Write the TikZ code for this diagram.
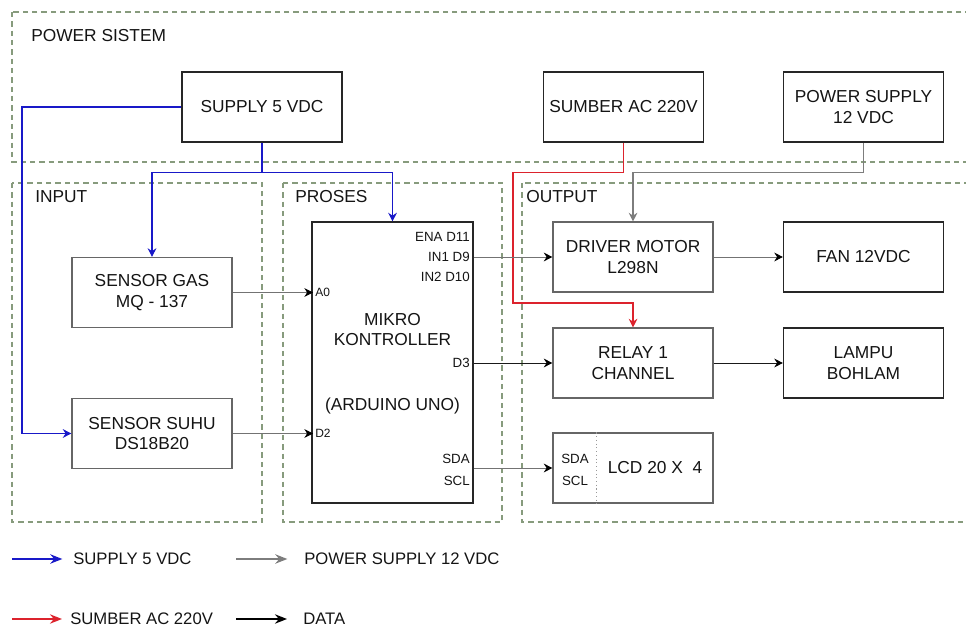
\documentclass[tikz,border=0pt]{standalone}
\usepackage{fontspec}
\setmainfont{Liberation Sans}
\usetikzlibrary{arrows.meta,positioning}
\definecolor{grpline}{RGB}{135,155,125}
\definecolor{pwrblue}{RGB}{25,25,200}
\definecolor{acred}{RGB}{220,35,45}
\definecolor{dcgray}{RGB}{125,125,125}
\definecolor{txt}{RGB}{20,20,20}
\begin{document}
\begin{tikzpicture}[x=0.75pt, y=-0.75pt,
    box/.style={draw=black!85, line width=0.8pt, minimum width=120pt, minimum height=52.5pt,
        align=center, inner sep=1pt, text=txt, font=\fontsize{13}{15.5}\selectfont},
    lightbox/.style={box, draw=black!60},
    boxtxt/.style={align=center, inner sep=0pt, text=txt, font=\fontsize{13}{15.5}\selectfont},
    group/.style={draw=grpline, line width=0.8pt, dash pattern=on 4pt off 3pt},
    grouplbl/.style={anchor=west, inner sep=0pt, text=txt, font=\fontsize{13}{15.5}\selectfont},
    pinlbl/.style={inner sep=1.5pt, text=txt, font=\fontsize{10}{12}\selectfont},
    pinsmall/.style={pinlbl, font=\fontsize{9}{11}\selectfont},
    tip/.style={-{Stealth[length=6.5pt,width=6.5pt]}},
    pwr5/.style={tip, draw=pwrblue, line width=0.8pt},
    ac/.style={tip, draw=acred, line width=0.8pt},
    dc12/.style={tip, draw=dcgray, line width=0.8pt},
    data/.style={-{Stealth[length=6.5pt,width=6.5pt,color=black]}, draw=black!55, line width=0.7pt},
    datadark/.style={data, draw=black!90},
    legendlbl/.style={anchor=west, inner sep=0pt, text=txt, font=\fontsize{12.5}{14.5}\selectfont},
    legendarrow/.style={-{Stealth[length=9pt,width=7pt]}, line width=1.5pt}
]
\useasboundingbox (0,0) rectangle (966,630);
\clip (0,0) rectangle (966,630);

% kelompok (garis putus-putus)
\draw[group] (12,12) rectangle (990,162);
\draw[group] (12,183) rectangle (262,522);
\draw[group] (283,183) rectangle (502,522);
\draw[group] (522,183) rectangle (990,522);
\node[grouplbl] (lblpower) at (31,36) {POWER SISTEM};
\node[grouplbl] (lblinput) at (35,197) {INPUT};
\node[grouplbl] (lblproses) at (295,197) {PROSES};
\node[grouplbl] (lbloutput) at (526,197) {OUTPUT};

% sumber daya
\node[box] (supply5) at (262,107) {SUPPLY 5 VDC};
\node[box] (sumberac) at (623.5,107) {SUMBER AC 220V};
\node[box] (ps12) at (863.5,107) {POWER SUPPLY\\12 VDC};

% input
\node[lightbox] (gas) at (152,292.5) {SENSOR GAS\\MQ - 137};
\node[lightbox] (suhu) at (152,433.5) {SENSOR SUHU\\DS18B20};

% proses
\node[box, minimum width=120.75pt, minimum height=210.75pt] (mcu) at (392.5,362.5) {};
\node[boxtxt] (mcutitle) at (392.5,329.5) {MIKRO\\KONTROLLER};
\node[boxtxt] (mcusub) at (392.5,406) {(ARDUINO UNO)};
\node[pinlbl, anchor=east] (pena) at (472,237) {ENA D11};
\node[pinlbl, anchor=east] (pin1) at (472,257) {IN1 D9};
\node[pinlbl, anchor=east] (pin2) at (472,277) {IN2 D10};
\node[pinlbl, anchor=east] (pd3) at (472,363) {D3};
\node[pinlbl, anchor=east] (psda) at (472,459) {SDA};
\node[pinlbl, anchor=east] (pscl) at (472,481) {SCL};
\node[pinsmall, anchor=west] (pa0) at (313,292.5) {A0};
\node[pinsmall, anchor=west] (pd2) at (313,433.5) {D2};

% output
\node[lightbox] (driver) at (633,257) {DRIVER MOTOR\\L298N};
\node[box] (fan) at (863.5,257) {FAN 12VDC};
\node[lightbox] (relay) at (633,363) {RELAY 1\\CHANNEL};
\node[box] (lampu) at (863.5,363) {LAMPU\\BOHLAM};
\node[lightbox] (lcd) at (633,468) {};
\draw[black!40, dotted, line width=0.8pt] ([xshift=33pt]lcd.north west) -- ([xshift=33pt]lcd.south west);
\node[pinlbl] (lsda) at (575,459) {SDA};
\node[pinlbl] (lscl) at (575,481) {SCL};
\node[boxtxt] (lcdtxt) at (655,468) {LCD 20 X\ \ 4};

% jalur supply 5 VDC
\draw[pwr5] (supply5.west) -- (22,107) |- (suhu.west);
\draw[pwr5] (supply5.south) -- ++(0,30) coordinate (j5) -| (gas.north);
\draw[pwr5] (j5) -| (mcu.north);

% jalur AC 220V dan 12 VDC
\draw[ac] (sumberac.south) -- ++(0,30) -| (513,303) -| (relay.north);
\draw[dc12] (ps12.south) -- ++(0,30) -| (driver.north);

% jalur data
\draw[data] (gas.east) -- (pa0.west);
\draw[data] (suhu.east) -- (pd2.west);
\draw[data] (mcu.east |- driver.west) -- (driver.west);
\draw[data] (driver.east) -- (fan.west);
\draw[datadark] (mcu.east |- relay.west) -- (relay.west);
\draw[datadark] (relay.east) -- (lampu.west);
\draw[data] (mcu.east |- lcd.west) -- (lcd.west);

% keterangan
\coordinate (lg5) at (12,559);
\coordinate (lg12) at (236,559);
\coordinate (lgac) at (12,619);
\coordinate (lgdata) at (236,619);
\node[legendlbl] (lg5txt) at (73,559) {SUPPLY 5 VDC};
\node[legendlbl] (lg12txt) at (304,559) {POWER SUPPLY 12 VDC};
\node[legendlbl] (lgactxt) at (70,619) {SUMBER AC 220V};
\node[legendlbl] (lgdatatxt) at (303,619) {DATA};
\draw[legendarrow, pwrblue] (lg5) -- ([xshift=-8pt]lg5txt.west);
\draw[legendarrow, dcgray] (lg12) -- ([xshift=-12.5pt]lg12txt.west);
\draw[legendarrow, acred] (lgac) -- ([xshift=-6pt]lgactxt.west);
\draw[legendarrow, black] (lgdata) -- ([xshift=-12pt]lgdatatxt.west);
\end{tikzpicture}
\end{document}
